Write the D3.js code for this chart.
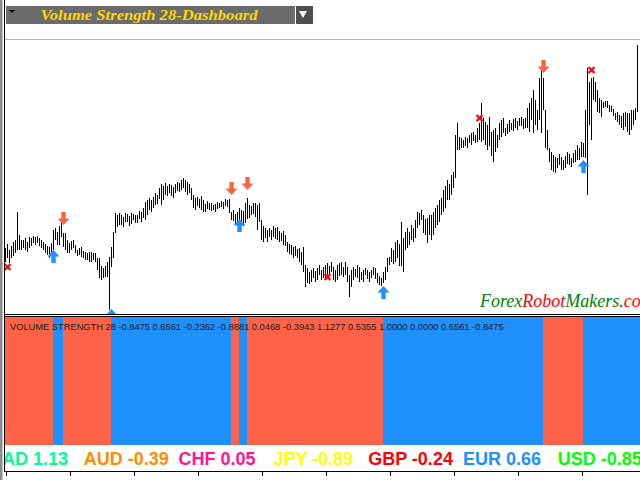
<!DOCTYPE html>
<html>
<head>
<meta charset="utf-8">
<script src="https://cdn.jsdelivr.net/npm/d3@7/dist/d3.min.js"></script>
<style>
  html, body { margin: 0; padding: 0; background: #fff; overflow: hidden; }
</style>
</head>
<body>
<div id="chart"></div>
<script>
// bar highs / lows in price points
const high = [152,156,150,154,158,160,188,165,160,160,162,158,163,162,164,163,164,162,160,158,
  156,154,153,157,170,172,168,174,180,167,167,160,157,159,160,155,150,152,153,149,
  148,147,148,148,147,147,142,142,134,132,134,138,143,153,168,187,185,187,185,183,
  187,186,184,187,186,185,185,189,188,192,198,200,202,200,203,207,205,212,216,214,
  217,214,216,215,213,216,218,217,220,222,220,218,216,212,205,202,203,201,204,200,
  196,199,197,197,195,196,198,197,199,198,201,200,201,188,190,186,188,192,190,189,
  197,202,195,194,197,197,195,197,180,174,172,170,172,170,174,172,173,169,167,169,
  165,158,156,155,153,154,151,152,148,153,135,132,128,130,132,129,132,135,130,133,
  135,137,134,138,133,130,135,137,138,133,138,133,125,130,133,131,135,133,128,130,
  132,130,128,130,133,132,127,124,122,128,133,142,143,152,150,158,160,156,178,162,
  168,172,168,175,172,180,188,187,190,185,181,182,185,185,188,192,195,200,202,210,
  214,220,216,225,228,265,277,263,262,260,263,262,265,267,268,265,272,277,297,282,
  278,275,283,268,270,272,265,277,280,282,272,276,280,277,281,282,279,282,283,281,
  282,292,297,302,310,300,290,322,330,322,290,270,252,248,245,243,242,246,243,240,
  244,248,246,242,247,250,255,252,258,257,290,332,318,322,323,318,310,302,300,298,
  299,299,295,294,291,287,288,285,284,287,288,287,287,290,290,292,355];
const low = [138,142,137,142,144,147,150,150,150,152,150,148,152,154,157,155,157,154,152,150,
  147,145,142,144,150,160,155,155,163,153,150,147,147,150,152,147,144,145,143,142,
  140,140,138,138,140,138,130,122,120,122,123,123,90,133,142,167,173,175,175,173,
  178,178,174,176,180,177,177,181,178,182,180,185,190,188,192,195,196,201,195,200,
  205,204,207,204,202,207,209,208,210,212,208,205,207,200,192,190,194,192,190,188,
  188,191,190,189,190,188,191,192,193,191,194,193,187,180,179,175,174,180,175,174,
  177,181,182,185,186,183,170,178,160,158,162,158,163,160,163,161,160,158,159,155,
  154,148,146,145,142,144,142,138,135,128,113,117,116,118,122,118,120,125,120,122,
  121,125,124,128,120,118,120,124,125,123,125,118,103,113,120,123,122,118,120,118,
  125,121,118,122,125,121,117,115,114,117,120,128,135,138,136,138,142,134,134,128,
  150,152,155,160,158,162,172,175,180,167,165,157,165,160,165,172,175,178,185,188,
  192,200,200,205,212,222,250,250,252,252,254,252,257,255,259,257,258,260,258,260,
  255,250,254,244,238,248,252,260,263,267,264,266,268,270,269,272,270,274,274,271,
  272,272,268,280,267,275,270,280,267,290,252,250,238,230,228,227,232,235,230,230,
  232,236,235,233,237,238,240,240,243,243,242,205,275,260,300,298,288,287,283,292,
  293,292,288,288,284,280,278,275,272,270,273,268,265,270,275,280,288];

// indicator colour runs (first bar of each run)
const runStart = [0, 24, 29, 53, 113, 117, 121, 189, 269, 289];
const runSide = ['down', 'up', 'down', 'up', 'down', 'up', 'down', 'up', 'down', 'up'];

// signals
const buyIdx = [24, 53, 117, 189, 289];
const buyPrice = [150, 91, 181, 114, 240];
const sellIdx = [29, 113, 121, 269];
const sellPrice = [175, 205, 210, 327];
const exitIdx = [1, 161, 237, 293];
const exitPrice = [133, 123, 282, 330];

const bufferValues = ['-0.8475', '0.6561', '-0.2362', '-0.8881', '0.0468', '-0.3943',
  '1.1277', '0.5355', '1.0000', '0.0000', '0.6561', '-0.8475'];

const currencies = ['CAD', 'AUD', 'CHF', 'JPY', 'GBP', 'EUR', 'USD'];
const strength = ['1.13', '-0.39', '0.05', '-0.89', '-0.24', '0.66', '-0.85'];
const currencyColors = ['#00fa9a', '#ff8c00', '#ff1493', '#ffff00', '#ff0000', '#1e90ff', '#00ff00'];

const timeTicks = [0, 32, 64, 96, 128, 160, 192, 224, 256, 288];

const W = 640, H = 480;
const svg = d3.select('#chart').append('svg')
  .attr('width', W).attr('height', H)
  .style('display', 'block')
  .style('font-family', '"Liberation Sans", Arial, sans-serif');

// scales
const x = d3.scaleLinear().domain([0, 316]).range([5.5, 637.5]);
const y = d3.scaleLinear().domain([86, 360]).range([314, 40]);

// clip for main chart
const defs = svg.append('defs');
defs.append('clipPath').attr('id', 'mainClip')
  .append('rect').attr('x', 5).attr('y', 40).attr('width', 635).attr('height', 274);
defs.append('clipPath').attr('id', 'stripClip')
  .append('rect').attr('x', 5).attr('y', 445).attr('width', 635).attr('height', 26);

// dashboard header
svg.append('rect').attr('x', 6).attr('y', 6).attr('width', 289).attr('height', 18).attr('fill', '#6b6b6b');
svg.append('path').attr('d', 'M9,10 L15,10 L12,13 Z').attr('fill', '#000');
svg.append('rect').attr('x', 296).attr('y', 6).attr('width', 17).attr('height', 18).attr('fill', '#4e4e4e');
svg.append('path').attr('d', 'M299,11 L307,11 L303,18 Z').attr('fill', '#fff');
svg.append('text')
  .attr('x', 149).attr('y', 19.5)
  .attr('text-anchor', 'middle')
  .attr('font-family', '"Liberation Serif", "DejaVu Serif", serif')
  .attr('font-style', 'italic').attr('font-weight', 'bold')
  .attr('font-size', 15)
  .attr('textLength', 217).attr('lengthAdjust', 'spacingAndGlyphs')
  .attr('fill', '#ffd700')
  .text('Volume Strength 28-Dashboard');

// window separator line
svg.append('line').attr('x1', 5).attr('x2', 640).attr('y1', 39.5).attr('y2', 39.5)
  .attr('stroke', '#b4b4b4');

// main chart
const main = svg.append('g').attr('clip-path', 'url(#mainClip)');

main.selectAll('.bar')
  .data(high)
  .enter()
  .append('line')
  .attr('class', 'bar')
  .attr('x1', (d, i) => x(i)).attr('x2', (d, i) => x(i))
  .attr('y1', (d) => y(d)).attr('y2', (d, i) => y(low[i]))
  .attr('stroke', '#000').attr('stroke-width', 1)
  .attr('shape-rendering', 'crispEdges');

// arrows, tip at origin pointing up
const arrowUp = 'M0,0 L6,6.5 L2.2,6.5 L2.2,13 L-2.2,13 L-2.2,6.5 L-6,6.5 Z';

main.selectAll('.buy')
  .data(buyIdx)
  .enter()
  .append('path')
  .attr('class', 'buy')
  .attr('d', arrowUp)
  .attr('transform', (d, i) => 'translate(' + x(d) + ',' + y(buyPrice[i]) + ')')
  .attr('fill', '#1e90ff');

main.selectAll('.sell')
  .data(sellIdx)
  .enter()
  .append('path')
  .attr('class', 'sell')
  .attr('d', arrowUp)
  .attr('transform', (d, i) => 'translate(' + x(d) + ',' + y(sellPrice[i]) + ') scale(1,-1)')
  .attr('fill', '#ff6347');

const exits = main.selectAll('.exit')
  .data(exitIdx)
  .enter()
  .append('g')
  .attr('class', 'exit')
  .attr('transform', (d, i) => 'translate(' + x(d) + ',' + y(exitPrice[i]) + ')');
exits.append('path')
  .attr('d', 'M-3,-3 L3,3 M3,-3 L-3,3')
  .attr('stroke', '#ff0000').attr('stroke-width', 2.2);

// watermark
const wm = main.append('text')
  .attr('x', 480).attr('y', 307)
  .attr('font-family', '"Liberation Serif", serif')
  .attr('font-style', 'italic')
  .attr('font-size', 18);
wm.append('tspan').attr('fill', '#008000').text('Forex');
wm.append('tspan').attr('fill', '#ff0000').text('Robot');
wm.append('tspan').attr('fill', '#008000').text('Makers');
wm.append('tspan').attr('fill', '#ff0000').text('.com');

// window borders
svg.append('line').attr('x1', 4).attr('x2', 640).attr('y1', 314.5).attr('y2', 314.5).attr('stroke', '#000');
svg.append('line').attr('x1', 4).attr('x2', 640).attr('y1', 316.5).attr('y2', 316.5).attr('stroke', '#000');

// indicator sub window
const sub = svg.append('g');
sub.selectAll('.run')
  .data(runStart)
  .enter()
  .append('rect')
  .attr('class', 'run')
  .attr('x', (d) => Math.max(5, x(d) - 1))
  .attr('width', (d, i) => {
    const x0 = Math.max(5, x(d) - 1);
    const x1 = i < runStart.length - 1 ? x(runStart[i + 1]) - 1 : 640;
    return x1 - x0;
  })
  .attr('y', 317).attr('height', 128)
  .attr('fill', (d, i) => runSide[i] === 'up' ? '#1e90ff' : '#ff6347')
  .attr('shape-rendering', 'crispEdges');

sub.append('text')
  .attr('x', 10).attr('y', 329.5)
  .attr('font-size', 9.3)
  .attr('fill', '#1a1a1a')
  .text('VOLUME STRENGTH 28 ' + bufferValues.join(' '));

// currency strength strip
const strip = svg.append('g').attr('clip-path', 'url(#stripClip)');
strip.selectAll('.cur')
  .data(currencies)
  .enter()
  .append('text')
  .attr('class', 'cur')
  .attr('x', (d, i) => -11 + i * 94.8)
  .attr('y', 465)
  .attr('font-size', 18).attr('font-weight', 'bold')
  .attr('fill', (d, i) => currencyColors[i])
  .text((d, i) => d + ' ' + strength[i]);

// time axis
const axis = svg.append('g')
  .attr('transform', 'translate(0,471.5)')
  .call(d3.axisBottom(x).tickValues(timeTicks).tickSize(4).tickFormat(''));
axis.select('.domain').remove();
axis.selectAll('line').attr('stroke', '#000').attr('shape-rendering', 'crispEdges');
svg.append('line').attr('x1', 4).attr('x2', 640).attr('y1', 471.5).attr('y2', 471.5).attr('stroke', '#000');

// left frame
svg.append('rect').attr('x', 0).attr('y', 0).attr('width', 2.5).attr('height', H).attr('fill', '#8c8c8c');
svg.append('line').attr('x1', 4.5).attr('x2', 4.5).attr('y1', 0).attr('y2', 472).attr('stroke', '#000');
</script>
</body>
</html>
